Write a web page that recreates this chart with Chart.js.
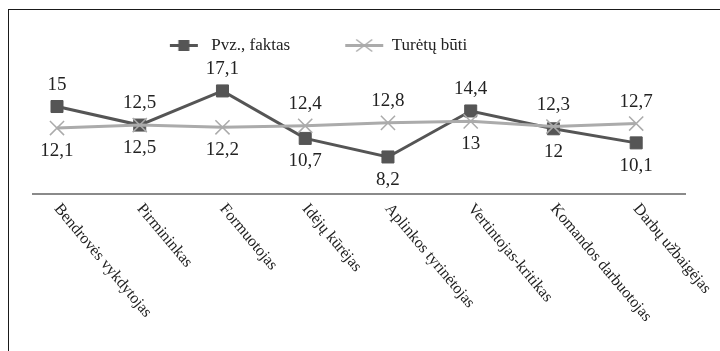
<!DOCTYPE html>
<html lang="lt">
<head>
<meta charset="utf-8">
<title>Komandos vaidmenys</title>
<script src="https://cdn.jsdelivr.net/npm/chart.js@4/dist/chart.umd.min.js"></script>
<style>
  html, body { margin: 0; padding: 0; background: #fff; overflow: hidden; }
  #wrap { position: relative; width: 720px; height: 351px; }
  #frame { position: absolute; left: 8px; top: 9px; width: 800px; height: 400px;
           border: 1px solid #1a1a1a; pointer-events: none; }
  canvas { position: absolute; left: 0; top: 0; }
</style>
</head>
<body>
<div id="wrap">
  <canvas id="chart" width="720" height="351"></canvas>
  <div id="frame"></div>
</div>
<script>
// Team roles and their scores
const categories = [
  'Bendrovės vykdytojas', 'Pirmininkas', 'Formuotojas', 'Idėjų kūrėjas',
  'Aplinkos tyrinėtojas', 'Vertintojas-kritikas', 'Komandos darbuotojas', 'Darbų užbaigėjas'
];
const faktas = [15, 12.5, 17.1, 10.7, 8.2, 14.4, 12, 10.1];
const turetu = [12.1, 12.5, 12.2, 12.4, 12.8, 13, 12.3, 12.7];
const seriesNames = ['Pvz., faktas', 'Turėtų būti'];

const DARK = '#555555';
const LIGHT = '#ababab';
const TEXT = '#222222';
const SERIF = "'Liberation Serif', 'DejaVu Serif', serif";

Chart.defaults.font.family = SERIF;
Chart.defaults.color = TEXT;

const fmt = v => String(v).replace('.', ',');

// Legend symbols: a short line with the series marker on it
function legendSymbol(kind) {
  const c = document.createElement('canvas');
  c.width = 40; c.height = 17;
  const g = c.getContext('2d');
  const cy = 8.5;
  if (kind === 'square') {
    g.strokeStyle = DARK; g.lineWidth = 3;
    g.beginPath(); g.moveTo(6, cy); g.lineTo(34, cy); g.stroke();
    g.fillStyle = DARK; g.fillRect(20 - 5.5, cy - 5.5, 11, 11);
  } else {
    g.strokeStyle = LIGHT; g.lineWidth = 3;
    g.beginPath(); g.moveTo(1, cy); g.lineTo(39, cy); g.stroke();
    g.lineWidth = 1.5;
    g.beginPath();
    g.moveTo(20 - 8, cy - 6); g.lineTo(20 + 8, cy + 6);
    g.moveTo(20 - 8, cy + 6); g.lineTo(20 + 8, cy - 6);
    g.stroke();
  }
  return c;
}
const symbols = [legendSymbol('square'), legendSymbol('cross')];

// Value labels above / below each point
const valueLabels = {
  id: 'valueLabels',
  afterDatasetsDraw(chart) {
    const ctx = chart.ctx;
    ctx.save();
    ctx.font = '19px ' + SERIF;
    ctx.fillStyle = TEXT;
    ctx.textAlign = 'center';
    ctx.textBaseline = 'middle';
    chart.data.datasets.forEach((ds, di) => {
      const meta = chart.getDatasetMeta(di);
      meta.data.forEach((pt, i) => {
        const top = faktas[i] >= turetu[i];
        const above = di === 0 ? top : !top;
        const v = ds.data[i].y;
        ctx.fillText(fmt(v), pt.x, pt.y + (above ? -22 : 23));
      });
    });
    ctx.restore();
  }
};

// Slanted category names under the x axis
const slantedTicks = {
  id: 'slantedTicks',
  afterDraw(chart) {
    const ctx = chart.ctx;
    const xs = chart.scales.x;
    const y0 = chart.chartArea.bottom + 7;
    ctx.save();
    ctx.font = '16px ' + SERIF;
    ctx.fillStyle = TEXT;
    ctx.textAlign = 'left';
    ctx.textBaseline = 'top';
    categories.forEach((lab, i) => {
      const x = xs.getPixelForValue(i) + 6;
      ctx.save();
      ctx.translate(x, y0);
      ctx.rotate(50 * Math.PI / 180);
      ctx.fillText(lab, 0, 0);
      ctx.restore();
    });
    ctx.restore();
  }
};

// Legend sits left of the centre line
const legendShift = {
  id: 'legendShift',
  afterLayout(chart) {
    chart.legend.left -= 43;
    chart.legend.right -= 43;
  }
};

new Chart(document.getElementById('chart'), {
  type: 'line',
  data: {
    datasets: [
      {
        label: seriesNames[0],
        data: faktas.map((v, i) => ({ x: i, y: v })),
        borderColor: DARK,
        backgroundColor: DARK,
        borderWidth: 3,
        pointStyle: 'rect',
        pointRadius: 8.5,
        pointBorderWidth: 1,
        pointBackgroundColor: DARK,
        pointBorderColor: DARK,
        tension: 0,
        clip: false,
        order: 1
      },
      {
        label: seriesNames[1],
        data: turetu.map((v, i) => ({ x: i, y: v })),
        borderColor: LIGHT,
        backgroundColor: LIGHT,
        borderWidth: 3,
        pointStyle: 'crossRot',
        pointRadius: 10,
        pointBorderWidth: 1.5,
        pointBorderColor: LIGHT,
        tension: 0,
        clip: false,
        order: 0
      }
    ]
  },
  options: {
    responsive: false,
    devicePixelRatio: 1,
    animation: false,
    events: [],
    layout: { padding: { left: 33, right: 35, top: -18, bottom: 0 } },
    scales: {
      x: {
        type: 'linear',
        min: -0.29,
        max: 7.59,
        grid: { display: false },
        border: { display: true, color: '#8a8a8a', width: 2 },
        ticks: { display: false },
        afterFit(scale) { scale.height = 157; }
      },
      y: {
        display: false,
        min: 3.21,
        max: 20.73
      }
    },
    plugins: {
      tooltip: { enabled: false },
      legend: {
        position: 'top',
        labels: {
          usePointStyle: true,
          pointStyleWidth: 38,
          padding: 55,
          color: TEXT,
          font: { family: SERIF, size: 17 },
          generateLabels(chart) {
            return chart.data.datasets.map((ds, i) => ({
              text: ds.label,
              pointStyle: symbols[i],
              fillStyle: ds.borderColor,
              strokeStyle: 'rgba(0,0,0,0)',
              lineWidth: 0,
              fontColor: TEXT,
              hidden: false,
              datasetIndex: i
            }));
          }
        }
      }
    }
  },
  plugins: [valueLabels, slantedTicks, legendShift]
});
</script>
</body>
</html>
